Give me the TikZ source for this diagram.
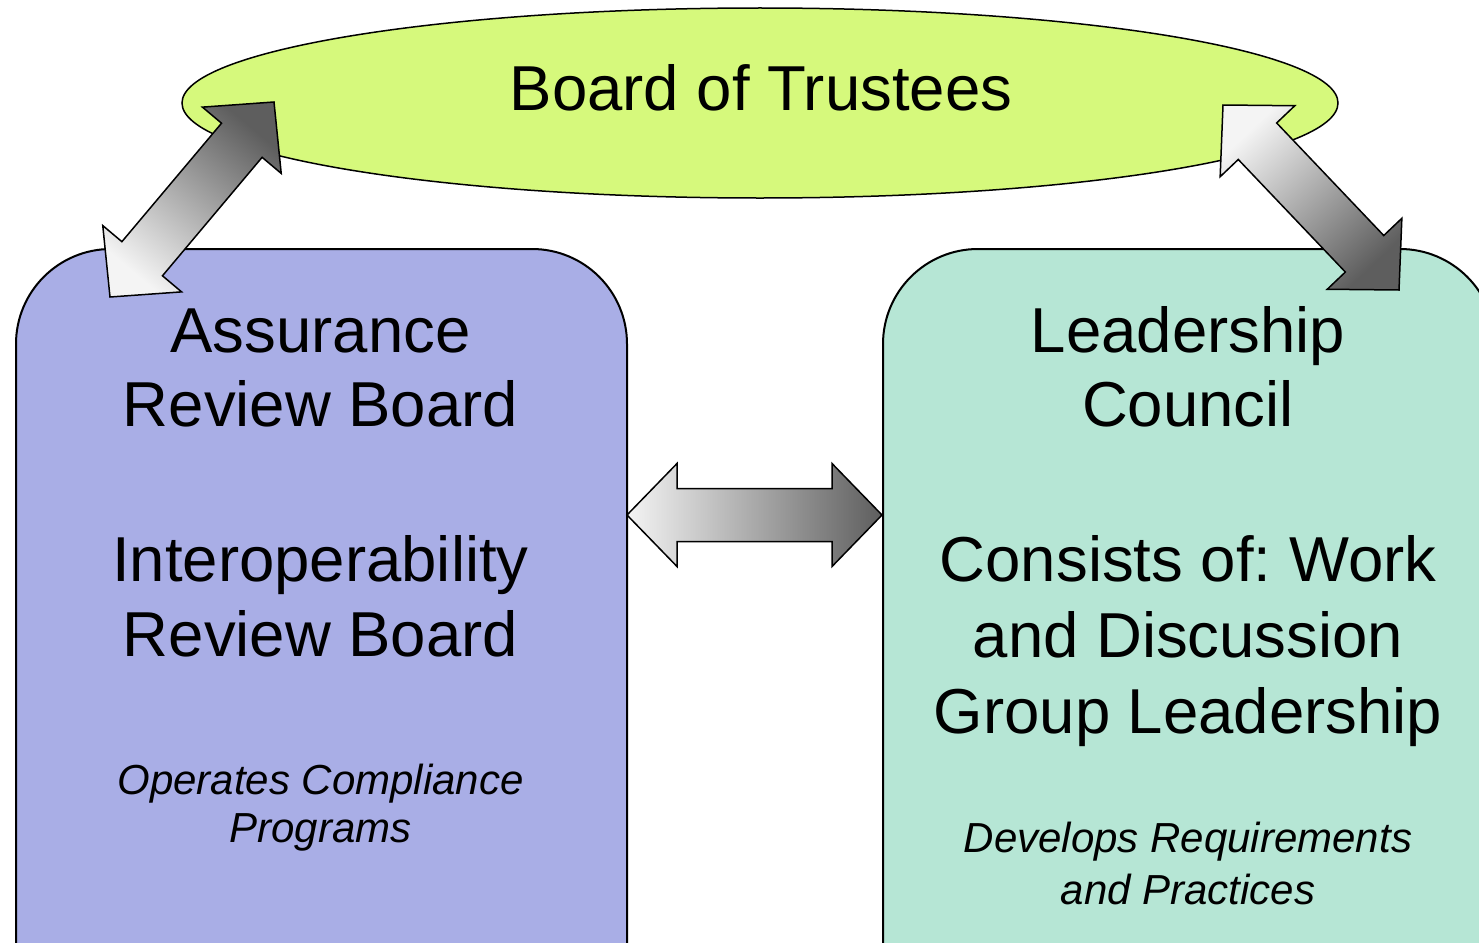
\documentclass[tikz,border=0pt]{standalone}
\usepackage{fontspec}
\setmainfont{Liberation Sans}
\usetikzlibrary{shapes.geometric,calc}
\frenchspacing

\definecolor{boardfill}{HTML}{D6F97C}
\definecolor{arbfill}{HTML}{A9AEE6}
\definecolor{lcfill}{HTML}{B6E6D5}
\definecolor{arrowlight}{HTML}{F4F4F4}
\definecolor{arrowdark}{HTML}{5E5E5E}

\tikzset{
  panel/.style={draw=black, line width=2pt, rectangle, rounded corners=95pt,
    anchor=north west, inner sep=0pt},
  board/.style={draw=black, line width=1.5pt, ellipse, fill=boardfill,
    minimum width=1156pt, minimum height=190pt, inner sep=0pt},
  bigtext/.style={anchor=base, inner sep=0pt, font=\fontsize{63.5}{76}\selectfont},
  smalltext/.style={anchor=base, inner sep=0pt, font=\fontsize{42}{50}\itshape\selectfont},
  arrowbody/.style={draw=black, line width=1.5pt, line join=miter,
    left color=arrowlight, right color=arrowdark},
}

% Block double arrow from #1 (light end) to #2 (dark end); #3 = shading angle
\newcommand\blockarrow[3]{%
  \path[arrowbody, shading angle=#3]
    (#1)
    -- ($(#1)!50pt!(#2)!51.5pt!90:(#2)$)
    -- ($(#1)!50pt!(#2)!26.5pt!90:(#2)$)
    -- ($(#2)!50pt!(#1)!26.5pt!-90:(#1)$)
    -- ($(#2)!50pt!(#1)!51.5pt!-90:(#1)$)
    -- (#2)
    -- ($(#2)!50pt!(#1)!51.5pt!90:(#1)$)
    -- ($(#2)!50pt!(#1)!26.5pt!90:(#1)$)
    -- ($(#1)!50pt!(#2)!26.5pt!-90:(#2)$)
    -- ($(#1)!50pt!(#2)!51.5pt!-90:(#2)$)
    -- cycle;%
}

\begin{document}
\begin{tikzpicture}[x=1pt, y=-1pt]
  \useasboundingbox (0,0) rectangle (1479,942);
  \clip (0,0) rectangle (1479,942);
  \fill[white] (0,0) rectangle (1479,942);

  % Governing body
  \node[board] (board) at (760,103) {};
  \node[bigtext] (boardtxt) at (761,110) {Board of Trustees};

  % Review boards panel
  \node[panel, fill=arbfill, minimum width=611pt, minimum height=820pt] (arb) at (15,248) {};
  \node[bigtext] (arb1) at (320.5,352) {Assurance};
  \node[bigtext] (arb2) at (320.5,426.5) {Review Board};
  \node[bigtext] (irb1) at (320.5,581) {Interoperability};
  \node[bigtext] (irb2) at (320.5,656.5) {Review Board};
  \node[smalltext] (arb3) at (320.5,794.5) {Operates Compliance};
  \node[smalltext] (arb4) at (320.5,842.5) {Programs};

  % Leadership council panel
  \node[panel, fill=lcfill, minimum width=612pt, minimum height=820pt] (lc) at (882,248) {};
  \node[bigtext] (lc1) at (1188,352) {Leadership};
  \node[bigtext] (lc2) at (1188,426.5) {Council};
  \node[bigtext] (lc3) at (1188,581) {Consists of: Work};
  \node[bigtext] (lc4) at (1188,657.5) {and Discussion};
  \node[bigtext] (lc5) at (1188,733) {Group Leadership};
  \node[smalltext] (lc6) at (1188,852.5) {Develops Requirements};
  \node[smalltext] (lc7) at (1188,904) {and Practices};

  % Arrow end points
  \coordinate (arbTop) at (110,297);
  \coordinate (boardL) at (274,102);
  \coordinate (boardR) at (1223,105);
  \coordinate (lcTop)  at (1399,290);
  \coordinate (arbSide) at (627,515);
  \coordinate (lcSide)  at (882,515);

  % Two-way links
  \blockarrow{arbTop}{boardL}{140}
  \blockarrow{boardR}{lcTop}{43.6}
  \blockarrow{arbSide}{lcSide}{90}
\end{tikzpicture}
\end{document}
